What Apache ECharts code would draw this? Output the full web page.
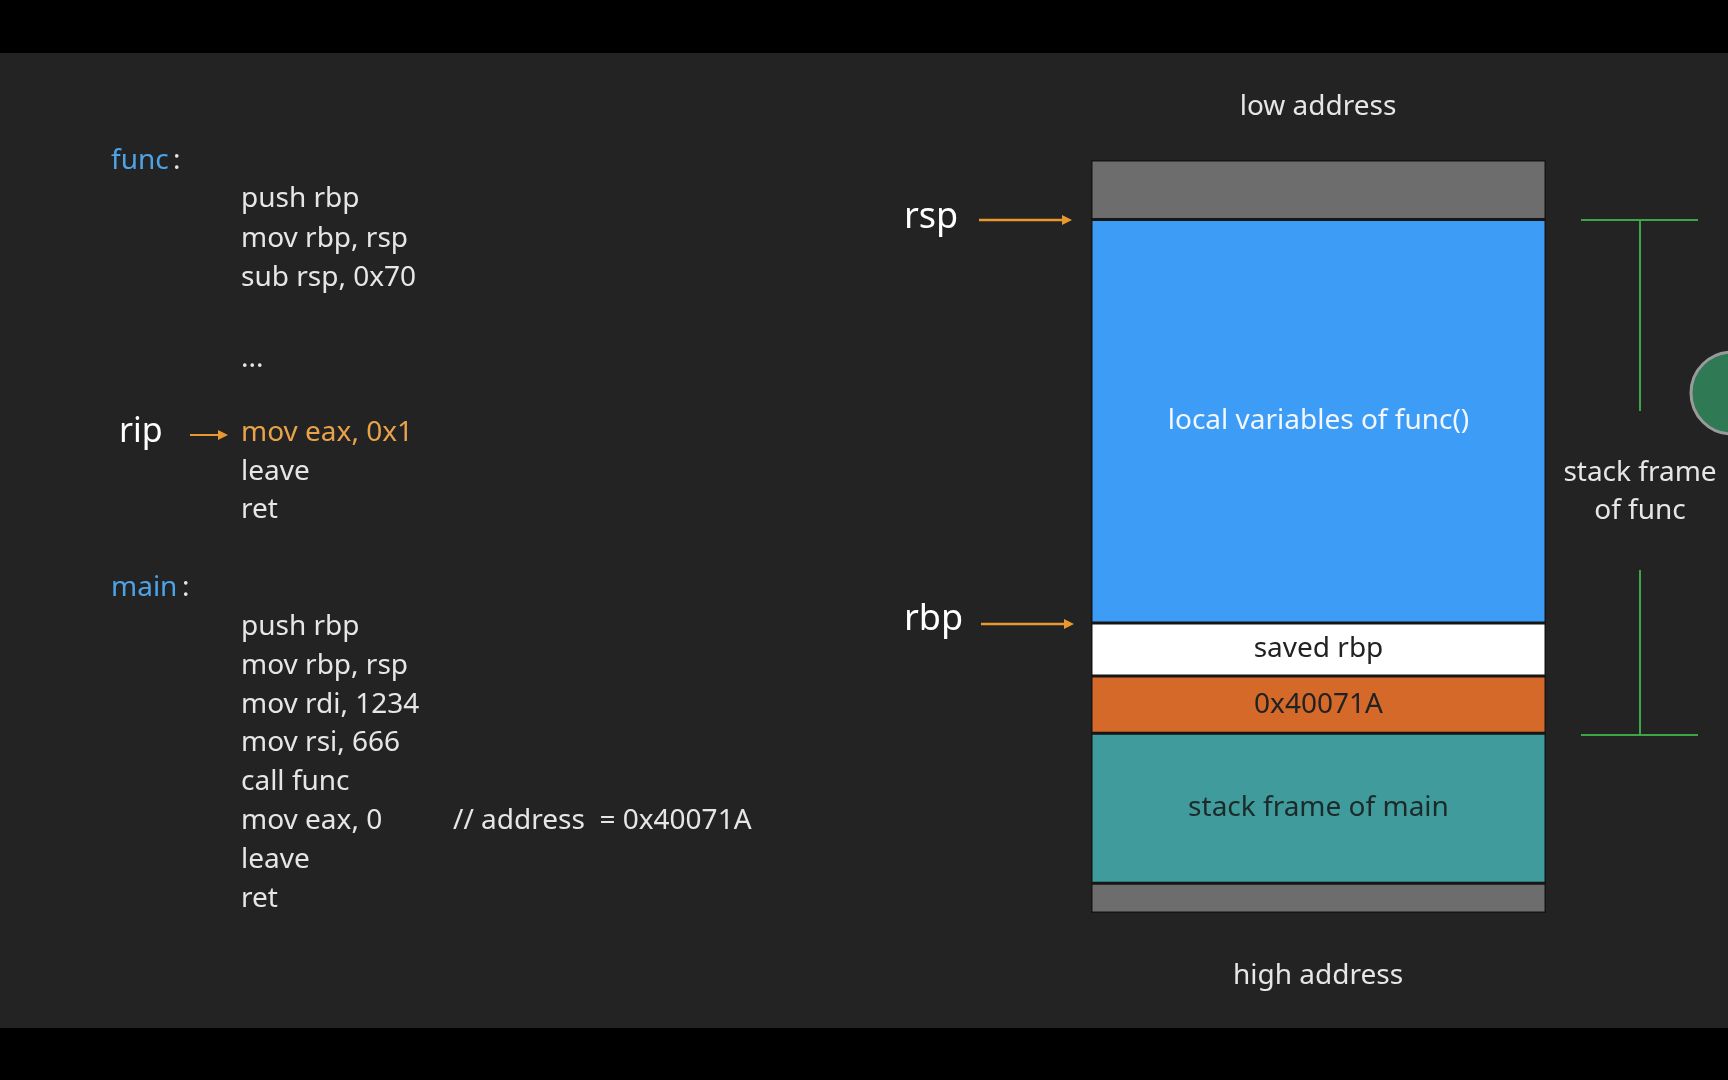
<!DOCTYPE html>
<html><head><meta charset="utf-8">
<script src="https://cdn.jsdelivr.net/npm/echarts@6/dist/echarts.min.js"></script>
<style>html,body{margin:0;background:#000}#c{width:1728px;height:1080px}</style>
</head><body><div id="c"></div>
<script>
// stack segments, top (low address) to bottom (high address), sizes in slide units
var segNames = ['free', 'locals', 'savedRbp', 'retAddr', 'mainFrame', 'below'];
var segSizes = [54, 366, 48, 52, 136, 27];
var segLabels = ['', 'local variables of func()', 'saved rbp', '0x40071A', 'stack frame of main', ''];
var segColors = ['#6d6d6d', '#3d9cf6', '#ffffff', '#d4692a', '#3f9b9c', '#6d6d6d'];
var segTextColors = ['#fff', '#f2f6ff', '#222', '#222', '#1d2a2a', '#fff'];

var funcCode = ['push rbp', 'mov rbp, rsp', 'sub rsp, 0x70'];
var funcTail = ['leave', 'ret'];
var mainCode = ['push rbp', 'mov rbp, rsp', 'mov rdi, 1234', 'mov rsi, 666', 'call func', 'mov eax, 0', 'leave', 'ret'];

var k = 1728 / 1568;
function s(v) { return Math.round(v * k); }
var FONT = '"Noto Sans", sans-serif';
var FS = s(25);

var g = [];
g.push({type: 'rect', shape: {x: 0, y: 0, width: 1728, height: s(48)}, style: {fill: '#000'}});
g.push({type: 'rect', shape: {x: 0, y: s(48), width: 1728, height: s(933 - 48)}, style: {fill: '#232323'}});
g.push({type: 'rect', shape: {x: 0, y: s(933), width: 1728, height: 1080 - s(933)}, style: {fill: '#000'}});

function txt(x, y, t, color, size, align) {
    g.push({type: 'text', x: s(x), y: s(y), z: 10, style: {text: t, fill: color || '#e6e6e6', font: (size || FS) + 'px ' + FONT, align: align || 'left', verticalAlign: 'middle'}});
}
function arrow(x1, x2, y, w) {
    g.push({type: 'line', z: 10, shape: {x1: s(x1), y1: s(y), x2: s(x2) - 8, y2: s(y)}, style: {stroke: '#e8982e', lineWidth: w}});
    g.push({type: 'polygon', z: 10, shape: {points: [[s(x2), s(y)], [s(x2) - 10, s(y) - 5], [s(x2) - 10, s(y) + 5]]}, style: {fill: '#e8982e'}});
}

txt(101, 146, 'func', '#4ea3e6');
txt(101 + 56, 146, ':');
funcCode.forEach(function(c, i) { txt(219, 181 + i * 35.5, c); });
txt(219, 326, '...');
txt(108, 392, 'rip', '#ffffff', s(31));
arrow(172, 207, 395, 2);
txt(219, 393, 'mov eax, 0x1', '#e8a24a');
funcTail.forEach(function(c, i) { txt(219, 428 + i * 35, c); });
txt(101, 534, 'main', '#4ea3e6');
txt(101 + 64, 534, ':');
mainCode.forEach(function(c, i) { txt(219, 569 + i * 35.2, c); });
txt(411, 745, '// address  = 0x40071A');

txt(1196, 97, 'low address', '#e6e6e6', FS, 'center');
txt(1196, 886, 'high address', '#e6e6e6', FS, 'center');
txt(820, 198, 'rsp', '#ffffff', s(33));
arrow(888, 973, 200, 2.5);
txt(820, 563, 'rbp', '#ffffff', s(33));
arrow(890, 975, 566, 2.5);

var gl = {stroke: '#3fa34a', lineWidth: 2};
[[1435, 200, 1541, 200], [1488, 200, 1488, 373], [1488, 517, 1488, 667], [1435, 667, 1541, 667]].forEach(function(l) {
    g.push({type: 'line', z: 10, shape: {x1: s(l[0]), y1: s(l[1]), x2: s(l[2]), y2: s(l[3])}, style: gl});
});
txt(1488, 429, 'stack frame', '#e6e6e6', FS, 'center');
txt(1488, 464, 'of func', '#e6e6e6', FS, 'center');
g.push({type: 'circle', z: 10, shape: {cx: s(1572), cy: s(357), r: s(37)}, style: {fill: '#2f7a55', stroke: '#9a9a9a', lineWidth: 3}});

var series = segNames.map(function(n, i) {
    return {
        name: n, type: 'bar', stack: 'mem', barWidth: '100%', z: 5,
        data: [segSizes[i]],
        itemStyle: {color: segColors[i], borderColor: '#151515', borderWidth: 1.5},
        label: {show: !!segLabels[i], position: 'inside', formatter: segLabels[i], color: segTextColors[i], fontSize: FS, fontFamily: FONT}
    };
});

var total = segSizes.reduce(function(a, b) { return a + b; }, 0);
var chart = echarts.init(document.getElementById('c'));
chart.setOption({
    animation: false,
    backgroundColor: '#000',
    graphic: {elements: g},
    grid: {left: s(990), width: s(1403 - 990), top: s(145), height: s(828 - 145)},
    xAxis: {type: 'category', data: ['stack'], show: false},
    yAxis: {type: 'value', inverse: true, min: 0, max: total, show: false},
    series: series
});
</script></body></html>
